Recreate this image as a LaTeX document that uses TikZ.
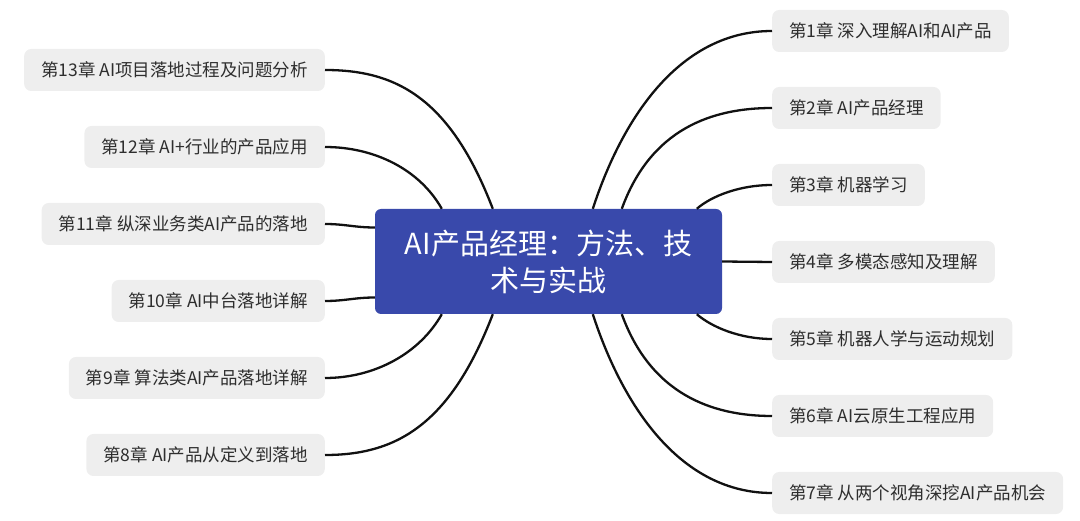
\documentclass[tikz,border=0pt]{standalone}
\usepackage{fontspec}
\setmainfont{Noto Sans CJK SC}
\usetikzlibrary{calc}
\definecolor{rootblue}{HTML}{3949AB}
\definecolor{chfill}{HTML}{EEEEEE}
\definecolor{txt}{HTML}{2E2E2E}
\definecolor{linec}{HTML}{111111}
\begin{document}
\begin{tikzpicture}[x=1pt,y=-1pt,
  chapter/.style={fill=chfill, rounded corners=7pt, minimum height=42pt, inner xsep=17pt, inner ysep=0pt, text=txt, font=\fontsize{17.5}{20}\selectfont},
  rootbox/.style={fill=rootblue, rounded corners=6pt, minimum width=347pt, minimum height=105pt, inner sep=0pt, text=white, align=center, font=\fontsize{29}{37}\selectfont},
  link/.style={draw=linec, line width=2.3pt}]
\useasboundingbox (0,0) rectangle (1080,521);

\node[rootbox] (root) at (548.5,261.5) {AI产品经理：方法、技\\术与实战};

\node[chapter, anchor=west] (r1) at (772,31) {第1章 深入理解AI和AI产品};
\node[chapter, anchor=west] (r2) at (772,108) {第2章 AI产品经理};
\node[chapter, anchor=west] (r3) at (772,185) {第3章 机器学习};
\node[chapter, anchor=west] (r4) at (772,262) {第4章 多模态感知及理解};
\node[chapter, anchor=west] (r5) at (772,339) {第5章 机器人学与运动规划};
\node[chapter, anchor=west] (r6) at (772,416) {第6章 AI云原生工程应用};
\node[chapter, anchor=west] (r7) at (772,493) {第7章 从两个视角深挖AI产品机会};

\node[chapter, anchor=east] (l13) at (325,70) {第13章 AI项目落地过程及问题分析};
\node[chapter, anchor=east] (l12) at (325,147) {第12章 AI+行业的产品应用};
\node[chapter, anchor=east] (l11) at (325,224) {第11章 纵深业务类AI产品的落地};
\node[chapter, anchor=east] (l10) at (325,301) {第10章 AI中台落地详解};
\node[chapter, anchor=east] (l9) at (325,378) {第9章 算法类AI产品落地详解};
\node[chapter, anchor=east] (l8) at (325,455) {第8章 AI产品从定义到落地};

% right side
\draw[link] ($(root.north west)+(218,0)$) .. controls +(31,-95) and +(-90,0) .. (r1.west);
\draw[link] ($(root.north west)+(247,0)$) .. controls +(29,-80) and +(-60,0) .. (r2.west);
\draw[link] ($(root.north west)+(322,0)$) .. controls +(15,-13) and +(-32,0) .. (r3.west);
\draw[link] (root.east) -- (r4.west);
\draw[link] ($(root.south west)+(322,0)$) .. controls +(15,13) and +(-32,0) .. (r5.west);
\draw[link] ($(root.south west)+(247,0)$) .. controls +(29,80) and +(-60,0) .. (r6.west);
\draw[link] ($(root.south west)+(218,0)$) .. controls +(31,95) and +(-90,0) .. (r7.west);

% left side
\draw[link] ($(root.north west)+(118,0)$) .. controls +(-43,-112) and +(70,0) .. (l13.east);
\draw[link] ($(root.north west)+(67,0)$) .. controls +(-22,-39) and +(50,0) .. (l12.east);
\draw[link] ($(root.west)+(0,-34)$) .. controls +(-20,0) and +(20,0) .. (l11.east);
\draw[link] ($(root.west)+(0,36)$) .. controls +(-20,0) and +(20,0) .. (l10.east);
\draw[link] ($(root.south west)+(67,0)$) .. controls +(-22,39) and +(50,0) .. (l9.east);
\draw[link] ($(root.south west)+(118,0)$) .. controls +(-43,112) and +(70,0) .. (l8.east);
\end{tikzpicture}
\end{document}
